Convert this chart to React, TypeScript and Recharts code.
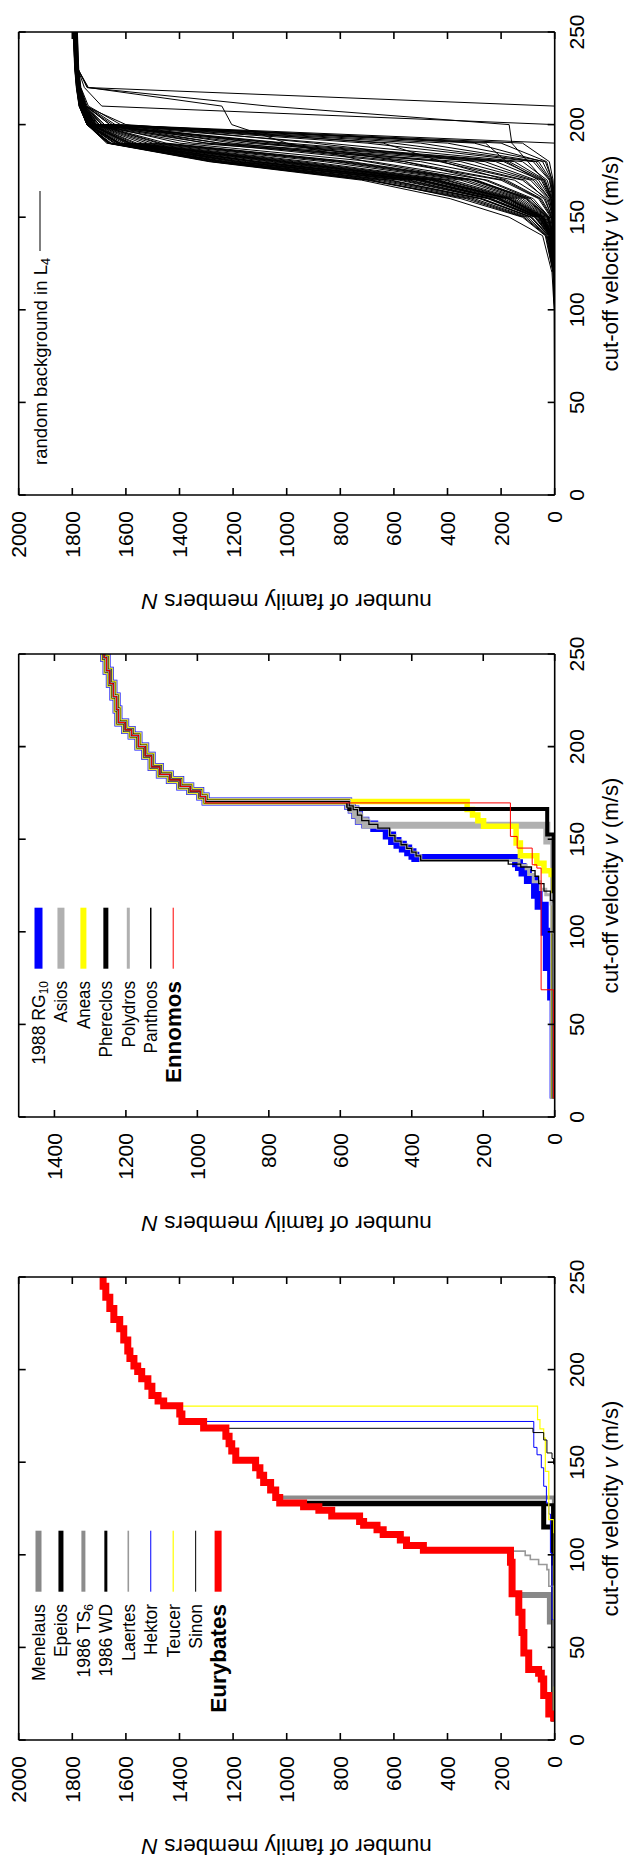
import React from 'react';
import { LineChart, Line, XAxis, YAxis } from 'recharts';

const FONT = '"Liberation Sans", Arial, Helvetica, sans-serif';

// ---------- tick labels ----------
const V_TICKS = [0, 50, 100, 150, 200, 250];
const N_TICKS_2000 = [0, 200, 400, 600, 800, 1000, 1200, 1400, 1600, 1800, 2000];
const N_TICKS_1500 = [0, 200, 400, 600, 800, 1000, 1200, 1400];

// ---------- panel 1 (Eurybates) ----------
const EURY_V = [10, 14, 24, 33, 36, 38, 47, 58, 69, 79, 96, 102.5, 105, 108, 111, 113.5, 116, 118, 121, 124, 126, 128, 131, 135, 139, 143, 147, 151, 156, 160, 164, 168.5, 172, 176, 180.5, 183, 186, 191, 195, 199, 202, 206, 210, 216, 222, 227, 233, 239, 245, 250];
const EURY_N = [4, 22, 41, 50, 60, 97, 115, 122, 134, 159, 165, 490, 553, 576, 640, 663, 713, 728, 832, 880, 937, 1026, 1041, 1060, 1086, 1100, 1116, 1190, 1205, 1215, 1227, 1310, 1391, 1399, 1459, 1480, 1503, 1518, 1541, 1556, 1570, 1585, 1593, 1608, 1623, 1645, 1660, 1675, 1685, 1690];
const MEN_V = [10, 64, 78.3];
const MEN_N = [3, 18, 140];
const EPE_V = [10, 115, 127.8];
const EPE_N = [4, 41, 960];
const TS6_V = [10, 131];
const TS6_N = [3, 1041];
const WD_V = [10, 95, 127];
const WD_N = [2, 8, 950];
const LAE_V = [10, 83, 92, 94.8, 97.5, 99.7, 102];
const LAE_N = [3, 22, 29, 60, 91, 110, 170];
const HEK_V = [10, 29, 65, 101, 122, 128, 137, 147, 154, 158, 172];
const HEK_N = [2, 4, 10, 16, 22, 31, 41, 50, 66, 78, 1310];
const TEU_V = [10, 112, 119, 145, 163, 168, 173, 180.3];
const TEU_N = [2, 4, 22, 35, 41, 55, 64, 1399];
const SIN_V = [10, 149, 152, 155, 162, 166, 168.3];
const SIN_N = [1, 4, 10, 29, 41, 81, 1227];

// ---------- panel 2 (Ennomos) ----------
const P2_TOP_V = [170.3, 173, 176, 178.5, 182, 185, 189, 195, 200, 206, 209, 213, 220, 227, 234, 241, 248, 250];
const P2_TOP_N = [977, 992, 1020, 1048, 1077, 1105, 1128, 1146, 1165, 1184, 1202, 1221, 1226, 1235, 1245, 1254, 1261, 1264];
const P2_MID_V = [139.8, 141, 143, 145, 147, 149, 152, 156, 158, 160, 163, 166, 168];
const P2_MID_N = [390, 398, 410, 425, 440, 455, 470, 505, 530, 548, 558, 568, 578];
const PAN_MID_V = [138.5, 141, 143, 145, 147, 149, 152, 156, 158, 160, 163, 166, 168];
const PAN_MID_N = [375, 388, 400, 414, 430, 447, 462, 495, 520, 540, 552, 564, 575];
const RG10_V = [10, 65, 81, 100, 114, 120, 128, 132, 135, 137];
const RG10_N = [3, 10, 22, 28, 45, 55, 75, 90, 100, 108];
const ASI_V = [10, 149, 157.5];
const ASI_N = [3, 22, 530];
const ANE_V = [10, 131, 133, 137, 141, 148, 157, 160, 163, 166];
const ANE_N = [2, 10, 30, 50, 96, 108, 199, 215, 230, 245];
const PHE_V = [10, 152.5, 166.3, 168];
const PHE_N = [3, 21, 575, 578];
const POL_V = [10, 100, 115, 120, 123, 127, 131, 134, 136];
const POL_N = [2, 5, 10, 25, 40, 60, 73, 80, 100];
const PAN_V = [10, 100, 117, 122, 126, 130, 133, 135, 136.5];
const PAN_N = [1, 4, 12, 30, 45, 55, 65, 95, 130];
const ENN_V = [10, 68.7, 134.4, 136.2, 145.2, 151.5, 169.6];
const ENN_N = [3, 38, 50, 63, 105, 124, 977];

// ---------- panel 3 (random background in L4) ----------
const V3 = [0, 100, 120, 140, 150, 160, 170, 180, 190, 200, 210, 220, 230, 250];
const BG01 = [0, 0, 2, 12, 50, 180, 460, 1050, 1600, 1735, 1765, 1778, 1784, 1790];
const BG02 = [0, 0, 3, 18, 70, 240, 550, 1180, 1630, 1742, 1769, 1780, 1786, 1792];
const BG03 = [0, 0, 1, 8, 30, 120, 330, 820, 1500, 1720, 1760, 1775, 1782, 1787];
const BG04 = [0, 0, 4, 22, 85, 270, 610, 1220, 1655, 1745, 1772, 1782, 1788, 1794];
const BG05 = [0, 0, 2, 10, 40, 150, 400, 950, 1560, 1728, 1763, 1777, 1783, 1788];
const BG06 = [0, 0, 5, 28, 100, 300, 660, 1250, 1665, 1744, 1773, 1783, 1789, 1795];
const BG07 = [0, 0, 1, 6, 25, 100, 290, 760, 1450, 1710, 1758, 1774, 1781, 1786];
const BG08 = [0, 0, 3, 14, 55, 200, 490, 1100, 1620, 1740, 1768, 1779, 1785, 1791];
const BG09 = [0, 0, 6, 32, 115, 330, 700, 1280, 1668, 1745, 1774, 1784, 1790, 1796];
const BG10 = [0, 0, 1, 5, 20, 80, 250, 680, 1400, 1700, 1755, 1772, 1780, 1785];
const BG11 = [0, 0, 2, 11, 46, 170, 440, 1020, 1590, 1733, 1766, 1778, 1784, 1789];
const BG12 = [0, 0, 4, 20, 75, 250, 580, 1200, 1645, 1744, 1771, 1781, 1787, 1793];
const BG13 = [0, 0, 1, 7, 28, 110, 310, 800, 1480, 1715, 1759, 1775, 1782, 1787];
const BG14 = [0, 2, 10, 45, 170, 390, 720, 1290, 1672, 1745, 1775, 1785, 1791, 1797];
const BG15 = [0, 0, 2, 9, 38, 140, 380, 920, 1540, 1725, 1762, 1776, 1783, 1788];
const BG16 = [0, 0, 3, 16, 62, 220, 520, 1150, 1640, 1743, 1770, 1780, 1786, 1792];
const BG17 = [0, 0, 1, 4, 15, 60, 200, 600, 1300, 1690, 1752, 1771, 1779, 1784];
const BG18 = [0, 0, 2, 13, 52, 190, 470, 1070, 1610, 1738, 1767, 1779, 1785, 1790];
const BG19 = [0, 0, 0, 2, 8, 40, 150, 500, 1200, 1660, 1748, 1770, 1778, 1783];
const BG20 = [0, 0, 5, 25, 90, 280, 640, 1240, 1660, 1745, 1772, 1782, 1788, 1794];
const BG21 = [0, 0, 0, 1, 5, 30, 120, 430, 1100, 1640, 1745, 1769, 1777, 1782];
const BG22 = [0, 0, 3, 15, 58, 210, 500, 1120, 1625, 1741, 1769, 1779, 1785, 1791];
const BG23 = [0, 0, 0, 1, 4, 20, 80, 300, 900, 1620, 1740, 1768, 1776, 1781];
const BG24 = [0, 0, 2, 12, 48, 175, 450, 1000, 1580, 1732, 1765, 1778, 1784, 1789];
const BG25 = [0, 1, 6, 35, 120, 350, 680, 1260, 1662, 1745, 1773, 1783, 1789, 1795];
const BG26 = [0, 0, 0, 0, 0, 0, 0, 0, 0, 0, 0, 1742, 1780, 1788];
const BG27 = [0, 0, 0, 0, 0, 0, 0, 0, 0, 0, 1690, 1755, 1779, 1786];
const BG28 = [0, 0, 0, 0, 0, 0, 0, 0, 0, 1660, 1750, 1770, 1778, 1785];
const BG29 = [0, 0, 0, 1, 3, 10, 40, 100, 160, 170, 1070, 1745, 1778, 1786];
const BG30 = [0, 0, 1, 5, 20, 90, 300, 700, 1000, 1205, 1242, 1740, 1779, 1787];
const BG31 = [0, 0, 0, 2, 10, 50, 180, 420, 640, 1600, 1752, 1772, 1780, 1786];
const BG32 = [0, 0, 1, 6, 24, 90, 260, 560, 1020, 1740, 1765, 1777, 1783, 1789];
const BG33 = [0, 0, 0, 0, 2, 15, 60, 180, 258, 1650, 1750, 1771, 1779, 1785];
const BG34 = [0, 0, 2, 11, 44, 165, 430, 1000, 1585, 1731, 1765, 1777, 1783, 1789];
const BG35 = [0, 0, 3, 17, 66, 235, 540, 1170, 1632, 1742, 1769, 1780, 1786, 1791];
const BG36 = [0, 0, 1, 9, 34, 130, 350, 860, 1520, 1722, 1761, 1776, 1782, 1788];
const BG37 = [0, 0, 4, 24, 88, 275, 620, 1230, 1658, 1745, 1772, 1782, 1788, 1793];
const BG38 = [0, 0, 2, 10, 42, 158, 410, 975, 1570, 1729, 1764, 1777, 1784, 1789];
const BG39 = [0, 0, 3, 20, 72, 245, 565, 1190, 1640, 1743, 1770, 1781, 1787, 1792];
const BG40 = [0, 0, 1, 6, 26, 105, 300, 780, 1470, 1712, 1758, 1774, 1781, 1786];
const BG41 = [0, 0, 2, 14, 56, 205, 495, 1110, 1622, 1740, 1768, 1779, 1785, 1790];
const BG42 = [0, 0, 5, 30, 108, 315, 690, 1275, 1666, 1745, 1774, 1784, 1790, 1796];
const BG43 = [0, 0, 1, 3, 12, 55, 190, 560, 1250, 1680, 1750, 1771, 1779, 1784];
const BG44 = [0, 0, 2, 12, 47, 172, 445, 1030, 1595, 1734, 1766, 1778, 1784, 1789];
const BG45 = [0, 0, 3, 15, 60, 215, 510, 1130, 1628, 1741, 1769, 1779, 1785, 1791];
const BG46 = [0, 0, 0, 1, 3, 10, 35, 150, 1000, 1715, 1762, 1776, 1783, 1788];
const BG47 = [0, 0, 0, 0, 2, 6, 20, 80, 700, 1700, 1760, 1775, 1782, 1787];
const BG48 = [0, 0, 1, 2, 5, 15, 50, 220, 1150, 1725, 1764, 1777, 1784, 1790];
const BG49 = [0, 0, 0, 1, 2, 5, 15, 60, 500, 1690, 1757, 1774, 1781, 1786];
const BG50 = [0, 0, 0, 2, 6, 20, 70, 260, 1250, 1730, 1766, 1778, 1785, 1791];
const BG51 = [0, 0, 1, 3, 8, 25, 90, 350, 1300, 1735, 1767, 1779, 1786, 1792];
const BG52 = [0, 0, 0, 0, 1, 4, 12, 45, 300, 1680, 1755, 1773, 1780, 1785];
const BG53 = [0, 0, 0, 1, 4, 12, 40, 170, 1050, 1718, 1763, 1777, 1784, 1789];
const BG54 = [0, 0, 1, 4, 12, 35, 110, 400, 1350, 1738, 1768, 1779, 1786, 1792];
const BG55 = [0, 0, 0, 1, 3, 8, 28, 120, 850, 1710, 1761, 1776, 1783, 1788];
const BG56 = [0, 0, 0, 0, 1, 3, 10, 30, 200, 1700, 1759, 1775, 1782, 1787];
const BG57 = [0, 0, 0, 0, 0, 2, 6, 20, 120, 1690, 1756, 1774, 1781, 1786];
const BG58 = [0, 0, 0, 1, 2, 6, 18, 70, 600, 1712, 1761, 1776, 1783, 1788];
const BG59 = [0, 0, 0, 0, 1, 3, 9, 35, 400, 1705, 1760, 1775, 1782, 1787];
const BG60 = [0, 0, 0, 1, 4, 14, 45, 190, 1100, 1722, 1764, 1777, 1784, 1789];
const BG_ALL = [BG01, BG02, BG03, BG04, BG05, BG06, BG07, BG08, BG09, BG10, BG11, BG12, BG13, BG14, BG15, BG16, BG17, BG18, BG19, BG20, BG21, BG22, BG23, BG24, BG25, BG26, BG27, BG28, BG29, BG30, BG31, BG32, BG33, BG34, BG35, BG36, BG37, BG38, BG39, BG40, BG41, BG42, BG43, BG44, BG45, BG46, BG47, BG48, BG49, BG50, BG51, BG52, BG53, BG54, BG55, BG56, BG57, BG58, BG59, BG60];

// ---------- helpers ----------
type Pt = { v: number; n: number };
const pts = (vs: number[], ns: number[]): Pt[] => vs.map((v, i) => ({ v, n: ns[i] }));
const P2_TOP = pts(P2_TOP_V, P2_TOP_N);
const P2_MID = pts(P2_MID_V, P2_MID_N);
const PAN_MID = pts(PAN_MID_V, PAN_MID_N);

type Series = { key: string; data: Pt[]; color: string; width: number; type: 'stepAfter' | 'linear' };
type LegendItem = { text: string; sub?: string; len: number; color: string; width: number; bold?: boolean; size?: number };

const P1_SERIES: Series[] = [
  { key: 'men', data: pts(MEN_V, MEN_N), color: '#888888', width: 6, type: 'stepAfter' },
  { key: 'epe', data: pts(EPE_V, EPE_N), color: '#000000', width: 5, type: 'stepAfter' },
  { key: 'ts6', data: pts(TS6_V, TS6_N), color: '#8c8c8c', width: 4, type: 'stepAfter' },
  { key: 'wd', data: pts(WD_V, WD_N), color: '#000000', width: 3, type: 'stepAfter' },
  { key: 'lae', data: pts(LAE_V, LAE_N), color: '#999999', width: 1.6, type: 'stepAfter' },
  { key: 'hek', data: pts(HEK_V, HEK_N), color: '#0000ff', width: 1, type: 'stepAfter' },
  { key: 'teu', data: pts(TEU_V, TEU_N), color: '#ffff00', width: 1.2, type: 'stepAfter' },
  { key: 'sin', data: pts(SIN_V, SIN_N), color: '#000000', width: 1, type: 'stepAfter' },
  { key: 'eur', data: pts(EURY_V, EURY_N), color: '#ff0000', width: 7, type: 'stepAfter' },
];
const P1_LEGEND: LegendItem[] = [
  { text: 'Menelaus', len: 77, color: '#888888', width: 6 },
  { text: 'Epeios', len: 53, color: '#000000', width: 5 },
  { text: '1986 TS', sub: '6', len: 73.5, color: '#8c8c8c', width: 4 },
  { text: '1986 WD', len: 72.5, color: '#000000', width: 3 },
  { text: 'Laertes', len: 57, color: '#999999', width: 1.6 },
  { text: 'Hektor', len: 51, color: '#0000ff', width: 1 },
  { text: 'Teucer', len: 53.5, color: '#ffff00', width: 1.2 },
  { text: 'Sinon', len: 44.7, color: '#000000', width: 1 },
  { text: 'Eurybates', len: 108.7, color: '#ff0000', width: 7, bold: true },
];

const P2_SERIES: Series[] = [
  { key: 'rg10', data: [...pts(RG10_V, RG10_N), ...P2_MID, ...P2_TOP], color: '#0000ff', width: 8, type: 'stepAfter' },
  { key: 'asi', data: [...pts(ASI_V, ASI_N), ...P2_MID.filter((p) => p.v > 157.5), ...P2_TOP], color: '#b0b0b0', width: 7, type: 'stepAfter' },
  { key: 'ane', data: [...pts(ANE_V, ANE_N), ...P2_TOP], color: '#ffff00', width: 5.5, type: 'stepAfter' },
  { key: 'phe', data: [...pts(PHE_V, PHE_N), ...P2_TOP], color: '#000000', width: 4, type: 'stepAfter' },
  { key: 'pol', data: [...pts(POL_V, POL_N), ...PAN_MID, ...P2_TOP], color: '#b0b0b0', width: 3, type: 'stepAfter' },
  { key: 'pan', data: [...pts(PAN_V, PAN_N), ...PAN_MID, ...P2_TOP], color: '#000000', width: 1.3, type: 'stepAfter' },
  { key: 'enn', data: [...pts(ENN_V, ENN_N), ...P2_TOP.filter((p) => p.v > 169.6)], color: '#ff0000', width: 1, type: 'stepAfter' },
];
const P2_LEGEND: LegendItem[] = [
  { text: '1988 RG', sub: '10', len: 83.7, color: '#0000ff', width: 8 },
  { text: 'Asios', len: 41.5, color: '#b0b0b0', width: 7 },
  { text: 'Aneas', len: 48, color: '#ffff00', width: 6 },
  { text: 'Phereclos', len: 76.5, color: '#000000', width: 5 },
  { text: 'Polydros', len: 66.5, color: '#b0b0b0', width: 3 },
  { text: 'Panthoos', len: 72.5, color: '#000000', width: 1.5 },
  { text: 'Ennomos', len: 102, color: '#ff0000', width: 1, bold: true },
];

const P3_SERIES: Series[] = BG_ALL.map((arr, i) => ({
  key: 'bg' + i,
  data: pts(V3, arr),
  color: '#000000',
  width: 1,
  type: 'linear',
}));
const P3_LEGEND: LegendItem[] = [
  { text: 'random background in L', sub: '4', len: 207, color: '#000000', width: 1, size: 18.5 },
];

// ---------- layout (unrotated panel frame) ----------
const PW = 622; // becomes the screen height of one panel
const PH = 627; // becomes the screen width
const PLOT_TOP = 18.7;
const PLOT_BOTTOM = 554.7;
const PLOT_LEFT = 127;
const PLOT_RIGHT = 590;
const AXIS_STROKE = { stroke: '#000', strokeWidth: 1.6 };
const TICK_FS = 21;
const DIGIT_W = 11.68;
const YTITLE_X = 28.5;

const NoTick = () => <g />;

const XTick = (props: any) => {
  const s = String(props.payload.value);
  return (
    <text x={props.x} y={props.y} dy="0.71em" textAnchor="middle" fontSize={TICK_FS} fontFamily={FONT} fill="#000"
      textLength={s.length * DIGIT_W} lengthAdjust="spacingAndGlyphs">
      {s}
    </text>
  );
};

const YTick = (props: any) => {
  const s = String(props.payload.value);
  return (
    <text x={props.x} y={props.y} dy="0.36em" textAnchor="end" fontSize={TICK_FS} fontFamily={FONT} fill="#000"
      textLength={s.length * DIGIT_W} lengthAdjust="spacingAndGlyphs">
      {s}
    </text>
  );
};

const XTitle = () => (
  <text x={(PLOT_LEFT + PLOT_RIGHT) / 2} y={618} textAnchor="middle" fontSize={22} fontFamily={FONT} fill="#000"
    textLength={216} lengthAdjust="spacingAndGlyphs">
    cut-off velocity <tspan fontStyle="italic">v</tspan> (m/s)
  </text>
);

const YTitle = () => {
  const cy = (PLOT_TOP + PLOT_BOTTOM) / 2;
  return (
    <text x={YTITLE_X} y={cy} transform={`rotate(-90 ${YTITLE_X} ${cy})`} textAnchor="middle" fontSize={22} fontFamily={FONT} fill="#000"
      textLength={290} lengthAdjust="spacingAndGlyphs">
      number of family members <tspan fontStyle="italic">N</tspan>
    </text>
  );
};

type PanelProps = {
  top: number;
  nMax: number;
  nTicks: number[];
  series: Series[];
  legend: LegendItem[];
  rowStart: number;
  textEnd: number;
  sampleFrom: number;
  sampleTo: number;
};

function Panel({ top, nMax, nTicks, series, legend, rowStart, textEnd, sampleFrom, sampleTo }: PanelProps) {
  const rowStep = 22.45;
  return (
    <div
      style={{
        position: 'absolute',
        left: 0,
        top,
        width: PW,
        height: PH,
        transformOrigin: '0 0',
        transform: `translate(0px, ${PW}px) rotate(-90deg)`,
        background: '#fff',
      }}
    >
      <LineChart width={PW} height={PH} margin={{ top: PLOT_TOP - 1, right: PW - PLOT_RIGHT - 1, bottom: 0, left: 0 }}>
        <XAxis
          dataKey="v"
          type="number"
          domain={[0, 250]}
          ticks={V_TICKS}
          interval={0}
          allowDataOverflow
          height={PH - PLOT_BOTTOM}
          tickSize={-7}
          tickMargin={21.3}
          axisLine={AXIS_STROKE}
          tickLine={AXIS_STROKE}
          tick={XTick}
          label={<XTitle />}
        />
        <XAxis
          xAxisId="t"
          orientation="top"
          dataKey="v"
          type="number"
          domain={[0, 250]}
          ticks={V_TICKS}
          interval={0}
          allowDataOverflow
          height={1}
          tickSize={-7}
          axisLine={AXIS_STROKE}
          tickLine={AXIS_STROKE}
          tick={NoTick}
        />
        <YAxis
          type="number"
          domain={[0, nMax]}
          ticks={nTicks}
          interval={0}
          allowDataOverflow
          width={PLOT_LEFT}
          tickSize={-7}
          tickMargin={23}
          axisLine={AXIS_STROKE}
          tickLine={AXIS_STROKE}
          tick={YTick}
          label={<YTitle />}
        />
        <YAxis
          yAxisId="r"
          orientation="right"
          type="number"
          domain={[0, nMax]}
          ticks={nTicks}
          interval={0}
          allowDataOverflow
          width={1}
          tickSize={-7}
          axisLine={AXIS_STROKE}
          tickLine={AXIS_STROKE}
          tick={NoTick}
        />
        {series.map((s) => (
          <Line
            key={s.key}
            data={s.data}
            dataKey="n"
            type={s.type}
            stroke={s.color}
            strokeWidth={s.width}
            dot={false}
            activeDot={false}
            legendType="none"
            isAnimationActive={false}
          />
        ))}
      </LineChart>
      <svg width={PW} height={PH} style={{ position: 'absolute', left: 0, top: 0, pointerEvents: 'none' }}>
        {legend.map((it, i) => {
          const c = rowStart + i * rowStep;
          const fs = it.size ?? (it.bold ? 22.5 : 17.5);
          return (
            <g key={i}>
              <text
                x={textEnd}
                y={c}
                dy="0.36em"
                textAnchor="end"
                fontSize={fs}
                fontWeight={it.bold ? 'bold' : 'normal'}
                fontFamily={FONT}
                fill="#000"
                textLength={it.len}
                lengthAdjust="spacingAndGlyphs"
              >
                {it.text}
                {it.sub ? (
                  <tspan fontSize={fs * 0.68} dy="0.3em">
                    {it.sub}
                  </tspan>
                ) : null}
              </text>
              <rect x={sampleFrom} y={c - it.width / 2} width={sampleTo - sampleFrom} height={it.width} fill={it.color} />
            </g>
          );
        })}
      </svg>
    </div>
  );
}

export default function App() {
  return (
    <div style={{ position: 'absolute', left: 0, top: 0, width: 627, height: 1859, overflow: 'hidden', background: '#fff' }}>
      <Panel top={0} nMax={2000} nTicks={N_TICKS_2000} series={P3_SERIES} legend={P3_LEGEND} rowStart={40} textEnd={364} sampleFrom={371} sampleTo={431} />
      <Panel top={622.3} nMax={1500} nTicks={N_TICKS_1500} series={P2_SERIES} legend={P2_LEGEND} rowStart={38.5} textEnd={263} sampleFrom={275.3} sampleTo={336.3} />
      <Panel top={1245} nMax={2000} nTicks={N_TICKS_2000} series={P1_SERIES} legend={P1_LEGEND} rowStart={38.5} textEnd={263} sampleFrom={275.3} sampleTo={336.3} />
    </div>
  );
}
